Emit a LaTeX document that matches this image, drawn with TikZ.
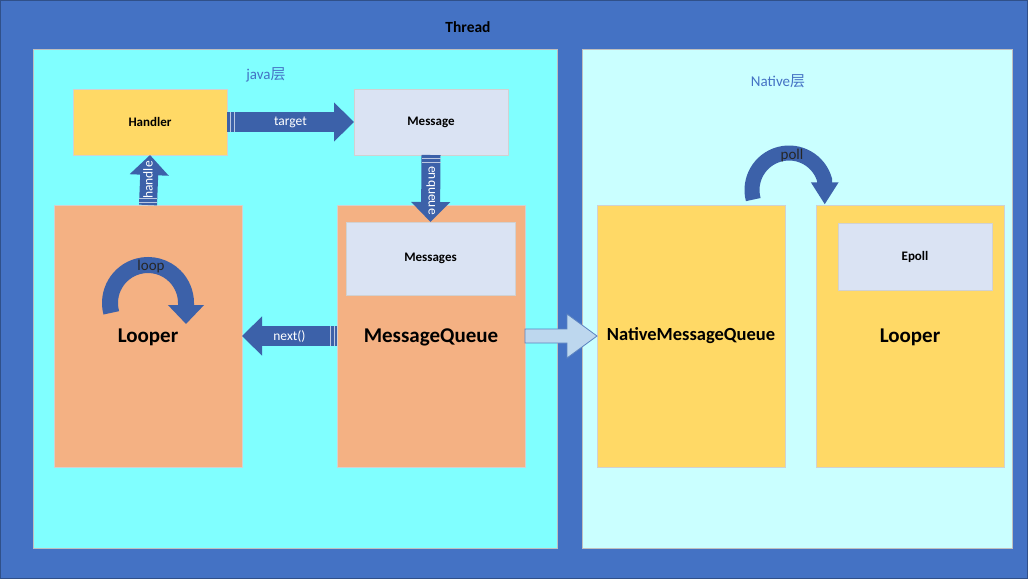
\documentclass[tikz,border=0pt]{standalone}
\usepackage{fontspec}
\setmainfont{Carlito}
\newfontfamily\cjk{Noto Sans CJK SC}
\usetikzlibrary{calc, arrows.meta}

\definecolor{threadblue}{HTML}{4472C4}
\definecolor{arrowblue}{HTML}{3C61A9}
\definecolor{javacyan}{HTML}{80FFFF}
\definecolor{nativecyan}{HTML}{CAFFFF}
\definecolor{boxyellow}{HTML}{FFD966}
\definecolor{boxlav}{HTML}{DAE3F3}
\definecolor{boxsalmon}{HTML}{F4B183}
\definecolor{lightarrow}{HTML}{BDD7EE}
\definecolor{lightedge}{HTML}{5B82C0}

\tikzset{
  panel/.style={draw=black!25, line width=0.6pt, inner sep=0pt, outer sep=0pt},
  box/.style={draw=black!18, line width=0.6pt, inner sep=0pt, outer sep=0pt,
    font=\bfseries\fontsize{13}{15}\selectfont},
  bigbox/.style={box, minimum width=188, minimum height=262,
    font=\bfseries\fontsize{21}{24}\selectfont},
  fatarrow/.style={arrowblue, line width=20pt, -{Triangle[width=38pt, length=20pt]}},
  stripe/.style={draw=white!65!arrowblue, line width=0.8pt},
  arrowtext/.style={text=white, font=\fontsize{13.5}{16}\selectfont},
  curlarrow/.style={arrowblue, line width=16pt, -{Triangle[width=35pt, length=19pt]}},
  curltext/.style={text=black!85, font=\fontsize{15}{18}\selectfont},
  layertext/.style={text=threadblue, font=\fontsize{15}{18}\selectfont}
}

\begin{document}
\begin{tikzpicture}[x=1pt, y=-1pt]
  \useasboundingbox (0,0) rectangle (1028,579);
  \fill[threadblue] (0,0) rectangle (1028,579);
  \draw[threadblue!70!black, line width=1pt] (0.5,0.5) rectangle (1027.5,578.5);

  \node[font=\bfseries\fontsize{15.5}{18}\selectfont] (thread) at (468,27) {Thread};

  \node[panel, fill=javacyan, minimum width=524, minimum height=499] (java) at (295,298.5) {};
  \node[panel, fill=nativecyan, minimum width=430, minimum height=499] (native) at (797,298.5) {};
  \node[layertext] (javalabel) at (266,75) {java{\cjk 层}};
  \node[layertext] (nativelabel) at (778,81) {Native{\cjk 层}};

  \node[box, fill=boxyellow, minimum width=154, minimum height=66] (handler) at (150,122) {Handler};
  \node[box, fill=boxlav, minimum width=154, minimum height=66] (message) at (431,122) {Message};

  \node[bigbox, fill=boxsalmon] (looper) at (148,336) {};
  \node[bigbox, fill=boxsalmon] (mq) at (431,336) {};
  \node[box, fill=boxlav, minimum width=169, minimum height=73] (msgs) at (430.5,258.5) {Messages};
  \node[font=\bfseries\fontsize{21}{24}\selectfont] (looperlabel) at (148,337) {Looper};
  \node[font=\bfseries\fontsize{21}{24}\selectfont] (mqlabel) at (431,337) {MessageQueue};

  \node[bigbox, fill=boxyellow, font=\bfseries\fontsize{18.5}{22}\selectfont] (nmq) at (691,336) {NativeMessageQueue};
  \node[bigbox, fill=boxyellow] (nlooper) at (910,336) {};
  \node[box, fill=boxlav, minimum width=154, minimum height=67] (epoll) at (915,256.5) {Epoll};
  \node[font=\bfseries\fontsize{21}{24}\selectfont] (nlooperlabel) at (910,337) {Looper};

  \draw[fatarrow] (handler.east) -- (message.west) node[midway, arrowtext] (targetlabel) {target};
  \draw[stripe] ($(handler.east)+(3,-10)$) -- ++(0,20);
  \draw[stripe] ($(handler.east)+(7,-10)$) -- ++(0,20);

  \draw[fatarrow, line width=18pt] (looper.north) -- (handler.south)
    node[midway, arrowtext, rotate=90, yshift=1pt] (handlelabel) {handle};
  \draw[stripe] ($(looper.north)+(-9,-3)$) -- ++(18,0);
  \draw[stripe] ($(looper.north)+(-9,-7)$) -- ++(18,0);

  \draw[fatarrow, line width=19pt] (message.south) -- (msgs.north)
    node[midway, arrowtext, rotate=-90, xshift=2pt] (enqueuelabel) {enqueue};
  \draw[stripe] ($(message.south)+(-9.5,3)$) -- ++(19,0);
  \draw[stripe] ($(message.south)+(-9.5,7)$) -- ++(19,0);

  \draw[fatarrow] (mq.west) -- (looper.east) node[midway, arrowtext] (nextlabel) {next()};
  \draw[stripe] ($(mq.west)+(-3,-10)$) -- ++(0,20);
  \draw[stripe] ($(mq.west)+(-7,-10)$) -- ++(0,20);

  \draw[lightedge, fill=lightarrow, line width=0.8pt]
    ($(mq.east)+(0,-7)$) -- ($(nmq.west)+(-30,-7)$) -- ($(nmq.west)+(-30,-22)$)
    -- (nmq.west) -- ($(nmq.west)+(-30,22)$) -- ($(nmq.west)+(-30,7)$)
    -- ($(mq.east)+(0,7)$) -- cycle;

  \coordinate (loopc) at (148,303);
  \draw[curlarrow] ($(loopc)+(165:38)$) arc[start angle=165, end angle=360, radius=38] -- ++(0,21);
  \node[curltext] (looplabel) at (151,266) {loop};

  \coordinate (pollc) at (789,190);
  \draw[curlarrow, line width=15pt, -{Triangle[width=26pt, length=22pt]}]
    ($(pollc)+(165:37)$) arc[start angle=165, end angle=345, radius=37] -- ++(0,24);
  \node[curltext] (polllabel) at (792,155) {poll};
\end{tikzpicture}
\end{document}
